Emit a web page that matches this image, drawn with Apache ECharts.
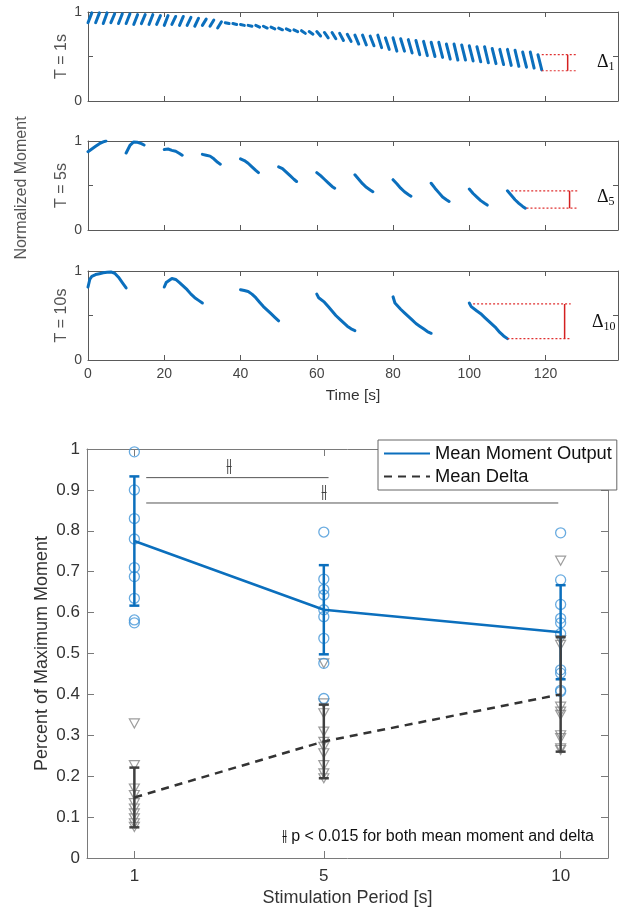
<!DOCTYPE html>
<html>
<head>
<meta charset="utf-8">
<script src="https://cdn.jsdelivr.net/npm/echarts@6/dist/echarts.min.js"></script>
<style>
  html, body { margin: 0; background: #fff; }
  #chart { width: 625px; height: 912px; }
</style>
</head>
<body>
<div id="chart"></div>
<script>
// ---- top: moment traces ----
// T = 1s : 60 pulses (1s on / 1s off), value at start and end of each pulse
const t1Starts = [0,2,4,6,8,10,12,14,16,18,20,22,24,26,28,30,32,34,36,38,40,42,44,46,48,50,52,54,56,58,
  60,62,64,66,68,70,72,74,76,78,80,82,84,86,88,90,92,94,96,98,100,102,104,106,108,110,112,114,116,118];
const t1StartVal = [0.88,0.88,0.87,0.88,0.87,0.87,0.86,0.87,0.86,0.86,
  0.85,0.86,0.85,0.85,0.84,0.85,0.84,0.82,0.88,0.87,
  0.86,0.85,0.85,0.84,0.83,0.82,0.81,0.80,0.79,0.78,
  0.78,0.77,0.77,0.76,0.75,0.74,0.74,0.73,0.74,0.71,
  0.71,0.70,0.69,0.68,0.67,0.66,0.66,0.64,0.64,0.63,
  0.62,0.61,0.61,0.59,0.58,0.58,0.57,0.55,0.55,0.52];
const t1EndVal = [0.99,0.99,0.99,0.98,0.98,0.98,0.97,0.97,0.97,0.96,
  0.96,0.95,0.95,0.94,0.93,0.92,0.91,0.89,0.87,0.86,
  0.85,0.84,0.83,0.82,0.81,0.80,0.79,0.78,0.76,0.75,
  0.73,0.71,0.70,0.68,0.67,0.64,0.63,0.62,0.60,0.58,
  0.56,0.56,0.54,0.52,0.51,0.50,0.49,0.47,0.46,0.46,
  0.45,0.44,0.43,0.42,0.41,0.40,0.39,0.38,0.37,0.35];

// T = 5s : 12 pulses
const t5Starts = [0,10,20,30,40,50,60,70,80,90,100,110];
const t5Offsets = [0, 1, 2, 3, 4, 4.7];
const t5Values = [
  [0.88, 0.91, 0.94, 0.97, 0.99, 1.0],
  [0.865, 0.95, 0.99, 0.985, 0.97, 0.955],
  [0.905, 0.91, 0.895, 0.885, 0.86, 0.84],
  [0.85, 0.84, 0.83, 0.80, 0.76, 0.74],
  [0.80, 0.78, 0.75, 0.71, 0.67, 0.645],
  [0.71, 0.69, 0.65, 0.61, 0.57, 0.545],
  [0.645, 0.61, 0.57, 0.53, 0.49, 0.47],
  [0.62, 0.57, 0.52, 0.48, 0.45, 0.43],
  [0.565, 0.52, 0.47, 0.43, 0.40, 0.38],
  [0.525, 0.47, 0.42, 0.37, 0.34, 0.32],
  [0.46, 0.41, 0.37, 0.33, 0.30, 0.28],
  [0.44, 0.39, 0.34, 0.30, 0.265, 0.245]
];

// T = 10s : 6 pulses
const t10Starts = [0,20,40,60,80,100];
const t10Offsets = [0, 0.5, 1, 2, 3, 4, 5, 6, 7, 8, 9, 10];
const t10Values = [
  [0.82, 0.91, 0.94, 0.96, 0.97, 0.98, 0.985, 0.99, 0.975, 0.93, 0.87, 0.81],
  [0.82, 0.87, 0.89, 0.915, 0.905, 0.87, 0.83, 0.79, 0.74, 0.70, 0.67, 0.64],
  [0.79, 0.78, 0.78, 0.77, 0.74, 0.70, 0.65, 0.60, 0.56, 0.52, 0.48, 0.44],
  [0.74, 0.70, 0.69, 0.65, 0.60, 0.55, 0.50, 0.46, 0.42, 0.38, 0.35, 0.33],
  [0.71, 0.64, 0.62, 0.57, 0.53, 0.49, 0.45, 0.41, 0.38, 0.35, 0.32, 0.30],
  [0.64, 0.60, 0.58, 0.55, 0.52, 0.48, 0.44, 0.40, 0.36, 0.31, 0.27, 0.24]
];

// delta markers (panel 1, 5, 10)
const deltaTop = [0.52, 0.44, 0.63];
const deltaBottom = [0.34, 0.245, 0.24];
const deltaTopFrom = [119, 111, 101];
const deltaBottomFrom = [119, 115, 110];
const deltaTo = [128.4, 128.4, 126.6];
const deltaBarX = [125.8, 126.3, 125];
const deltaSub = ['1', '5', '10'];
const panelNames = ['T = 1s', 'T = 5s', 'T = 10s'];

// ---- bottom: summary ----
const periods = [1, 5, 10];
const momentMean = [0.775, 0.607, 0.552];
const momentSd = [0.158, 0.109, 0.115];
const deltaMean = [0.148, 0.285, 0.40];
const deltaSd = [0.073, 0.09, 0.14];
const moment1 = [0.993, 0.9, 0.83, 0.78, 0.71, 0.688, 0.635, 0.582, 0.575];
const moment5 = [0.797, 0.682, 0.657, 0.643, 0.607, 0.59, 0.537, 0.476, 0.39];
const moment10 = [0.795, 0.68, 0.62, 0.586, 0.575, 0.549, 0.46, 0.452, 0.41, 0.407];
const delta1 = [0.329, 0.227, 0.17, 0.154, 0.134, 0.121, 0.109, 0.097, 0.085, 0.076];
const delta5 = [0.476, 0.378, 0.354, 0.309, 0.284, 0.272, 0.256, 0.227, 0.207, 0.195];
const delta10 = [0.727, 0.533, 0.521, 0.37, 0.358, 0.35, 0.3, 0.293, 0.268, 0.264];
const sigY = [0.93, 0.868];
const sigFrom = [1.25, 1.25];
const sigTo = [5.1, 9.95];
const sigMarkX = [3.0, 5.0];
const sigMarkY = [0.956, 0.892];

const FONT = 'Liberation Sans, Helvetica, Arial, sans-serif';
const BLUE = '#0b6fbd';
const LIGHTBLUE = '#4496d8';
const AXIS = '#5a5a5a';
const AXIS2 = '#7a7a7a';
const HASH = '\u2AF2';

const chart = echarts.init(document.getElementById('chart'));

function gap() { return ['-', '-']; }

function traceT1() {
  const d = [];
  t1Starts.forEach((t, i) => { d.push([t, t1StartVal[i]], [t + 1, t1EndVal[i]], gap()); });
  return d;
}
function traceFrom(starts, offsets, values) {
  const d = [];
  starts.forEach((t, i) => {
    offsets.forEach((o, j) => d.push([t + o, values[i][j]]));
    d.push(gap());
  });
  return d;
}
const traces = [traceT1(), traceFrom(t5Starts, t5Offsets, t5Values), traceFrom(t10Starts, t10Offsets, t10Values)];

const grids = [], xAxes = [], yAxes = [], series = [];
[12, 141, 271].forEach(top => grids.push({ left: 88, width: 530, top: top, height: 89 }));
grids.push({ left: 87, width: 521, top: 449, height: 409 });

function tick(len, color) { return { inside: true, length: len, lineStyle: { color: color } }; }
function line(color) { return { onZero: false, lineStyle: { color: color, width: 1 } }; }

for (let i = 0; i < 3; i++) {
  xAxes.push({
    type: 'value', gridIndex: i, min: 0, max: 139, interval: 20,
    axisLine: line(AXIS), axisTick: tick(5, AXIS), splitLine: { show: false },
    axisLabel: {
      show: i === 2, fontFamily: FONT, fontSize: 14, color: '#444', margin: 7,
      formatter: v => (v % 20 === 0 ? String(v) : '')
    },
    name: i === 2 ? 'Time [s]' : '', nameLocation: 'middle', nameGap: 28,
    nameTextStyle: { fontFamily: FONT, fontSize: 15.5, color: '#333' }
  });
  yAxes.push({
    type: 'value', gridIndex: i, min: 0, max: 1, interval: 0.5,
    axisLine: line(AXIS), axisTick: tick(5, AXIS), splitLine: { show: false },
    axisLabel: { fontFamily: FONT, fontSize: 14, color: '#444', margin: 6,
      formatter: v => (v === 0.5 ? '' : String(v)) },
    name: panelNames[i], nameLocation: 'middle', nameGap: 18, nameRotate: 90, nameMoveOverlap: false,
    nameTextStyle: { fontFamily: FONT, fontSize: 16, color: '#555' }
  });
}
for (let i = 0; i < 3; i++) {
  xAxes.push({
    type: 'value', gridIndex: i, position: 'top', min: 0, max: 139, interval: 20,
    axisLine: line(AXIS), axisTick: tick(5, AXIS), axisLabel: { show: false }, splitLine: { show: false }
  });
  yAxes.push({
    type: 'value', gridIndex: i, position: 'right', min: 0, max: 1, interval: 0.5,
    axisLine: line(AXIS), axisTick: tick(5, AXIS), axisLabel: { show: false }, splitLine: { show: false }
  });
}
// bottom chart axes (index 6 main, 7 mirror)
xAxes.push({
  type: 'value', gridIndex: 3, min: 0, max: 11,
  axisLine: line(AXIS2),
  axisTick: { inside: true, length: 7, customValues: periods, lineStyle: { color: AXIS2 } },
  axisLabel: { customValues: periods, fontFamily: FONT, fontSize: 17, color: '#333', margin: 10 },
  splitLine: { show: false },
  name: 'Stimulation Period [s]', nameLocation: 'middle', nameGap: 31,
  nameTextStyle: { fontFamily: FONT, fontSize: 18, color: '#333' }
});
yAxes.push({
  type: 'value', gridIndex: 3, min: 0, max: 1, interval: 0.1,
  axisLine: line(AXIS2), axisTick: tick(7, AXIS2),
  axisLabel: { fontFamily: FONT, fontSize: 17, color: '#333', margin: 7 },
  splitLine: { show: false },
  name: 'Percent of Maximum Moment', nameLocation: 'middle', nameGap: 36, nameRotate: 90, nameMoveOverlap: false,
  nameTextStyle: { fontFamily: FONT, fontSize: 18, color: '#333' }
});
xAxes.push({
  type: 'value', gridIndex: 3, position: 'top', min: 0, max: 11,
  axisLine: line(AXIS2),
  axisTick: { inside: true, length: 7, customValues: periods, lineStyle: { color: AXIS2 } },
  axisLabel: { show: false }, splitLine: { show: false }
});
yAxes.push({
  type: 'value', gridIndex: 3, position: 'right', min: 0, max: 1, interval: 0.1,
  axisLine: line(AXIS2), axisTick: tick(7, AXIS2),
  axisLabel: { show: false }, splitLine: { show: false }
});

// top traces + delta markers
for (let i = 0; i < 3; i++) {
  series.push({
    type: 'line', xAxisIndex: i, yAxisIndex: i, data: traces[i], showSymbol: false, symbol: 'none',
    lineStyle: { color: BLUE, width: 3, cap: 'round', join: 'round' }, silent: true
  });
  series.push({
    type: 'line', xAxisIndex: i, yAxisIndex: i, symbol: 'none', silent: true,
    data: [[deltaTopFrom[i], deltaTop[i]], [deltaTo[i], deltaTop[i]], gap(),
           [deltaBottomFrom[i], deltaBottom[i]], [deltaTo[i], deltaBottom[i]]],
    lineStyle: { color: '#e03030', width: 1.2, type: [2, 2] }
  });
  series.push({
    type: 'line', xAxisIndex: i, yAxisIndex: i, symbol: 'none', silent: true,
    data: [[deltaBarX[i], deltaTop[i]], [deltaBarX[i], deltaBottom[i]]],
    lineStyle: { color: '#d42020', width: 1.5 }
  });
}

function errorBar(color, means, sds) {
  return {
    type: 'custom', xAxisIndex: 6, yAxisIndex: 6, silent: true, z: 4,
    data: periods.map((p, i) => [p, means[i] - sds[i], means[i] + sds[i]]),
    renderItem: function (params, api) {
      const lo = api.coord([api.value(0), api.value(1)]);
      const hi = api.coord([api.value(0), api.value(2)]);
      const w = 5;
      const style = { stroke: color, lineWidth: 2.5 };
      return {
        type: 'group', children: [
          { type: 'line', shape: { x1: lo[0], y1: lo[1], x2: hi[0], y2: hi[1] }, style: style },
          { type: 'line', shape: { x1: lo[0] - w, y1: lo[1], x2: lo[0] + w, y2: lo[1] }, style: style },
          { type: 'line', shape: { x1: hi[0] - w, y1: hi[1], x2: hi[0] + w, y2: hi[1] }, style: style }
        ]
      };
    }
  };
}

function points(cols) {
  const d = [];
  cols.forEach((vals, i) => vals.forEach(v => d.push([periods[i], v])));
  return d;
}

series.push({
  type: 'scatter', xAxisIndex: 6, yAxisIndex: 6, silent: true, symbol: 'triangle', symbolRotate: 180,
  symbolSize: [10, 9], data: points([delta1, delta5, delta10]),
  itemStyle: { color: 'rgba(0,0,0,0)', borderColor: '#858585', borderWidth: 1.2 }
});
series.push({
  type: 'scatter', xAxisIndex: 6, yAxisIndex: 6, silent: true, symbol: 'circle',
  symbolSize: 10, data: points([moment1, moment5, moment10]),
  itemStyle: { color: 'rgba(0,0,0,0)', borderColor: LIGHTBLUE, borderWidth: 1.3 }
});
series.push(errorBar(BLUE, momentMean, momentSd));
series.push(errorBar('#404040', deltaMean, deltaSd));
series.push({
  name: 'Mean Moment Output', type: 'line', xAxisIndex: 6, yAxisIndex: 6, symbol: 'none', silent: true, z: 5,
  data: periods.map((p, i) => [p, momentMean[i]]),
  lineStyle: { color: BLUE, width: 2.5 }, itemStyle: { color: BLUE }
});
series.push({
  name: 'Mean Delta', type: 'line', xAxisIndex: 6, yAxisIndex: 6, symbol: 'none', silent: true, z: 5,
  data: periods.map((p, i) => [p, deltaMean[i]]),
  lineStyle: { color: '#333', width: 2.5, type: [8, 6] }, itemStyle: { color: '#333' }
});
// significance bars
const sigData = [];
sigY.forEach((y, i) => { sigData.push([sigFrom[i], y], [sigTo[i], y], gap()); });
series.push({
  type: 'line', xAxisIndex: 6, yAxisIndex: 6, symbol: 'none', silent: true, data: sigData,
  lineStyle: { color: '#555', width: 1 }
});
series.push({
  type: 'scatter', xAxisIndex: 6, yAxisIndex: 6, symbolSize: 0, silent: true,
  data: sigMarkX.map((x, i) => [x, sigMarkY[i]]),
  label: { show: true, position: 'inside', formatter: HASH, fontFamily: 'DejaVu Sans', fontSize: 19, color: '#111' }
});

const deltaLabelY = [64, 199, 324];
const deltaLabelX = [597, 597, 592];
const graphics = [
  { type: 'text', x: 22, y: 188, rotation: Math.PI / 2,
    style: { text: 'Normalized Moment', font: '16px ' + FONT, fill: '#555', align: 'center', verticalAlign: 'middle' } },
  { type: 'text', right: 31, top: 829,
    style: { text: HASH + ' p < 0.015 for both mean moment and delta', font: '16px ' + FONT, fill: '#111' } }
];
deltaLabelY.forEach((y, i) => {
  graphics.push({
    type: 'text', left: deltaLabelX[i], top: y - 11,
    style: {
      text: '{d|\u0394}{s|' + deltaSub[i] + '}',
      rich: {
        d: { fontFamily: 'Liberation Serif, serif', fontSize: 18, fill: '#111' },
        s: { fontFamily: 'Liberation Serif, serif', fontSize: 12, fill: '#111', padding: [10, 0, 0, 0] }
      }
    }
  });
});

chart.setOption({
  animation: false,
  backgroundColor: '#fff',
  grid: grids,
  xAxis: xAxes,
  yAxis: yAxes,
  legend: {
    data: ['Mean Moment Output', 'Mean Delta'], orient: 'vertical', left: 378, top: 440,
    backgroundColor: '#fff', borderColor: '#666', borderWidth: 1, borderRadius: 0,
    padding: [3, 5, 3, 5], itemGap: 2, itemWidth: 46, itemHeight: 14,
    itemStyle: { opacity: 0, borderWidth: 0 },
    textStyle: { fontFamily: FONT, fontSize: 18.3, color: '#111', lineHeight: 21 }
  },
  graphic: graphics,
  series: series
});
</script>
</body>
</html>
